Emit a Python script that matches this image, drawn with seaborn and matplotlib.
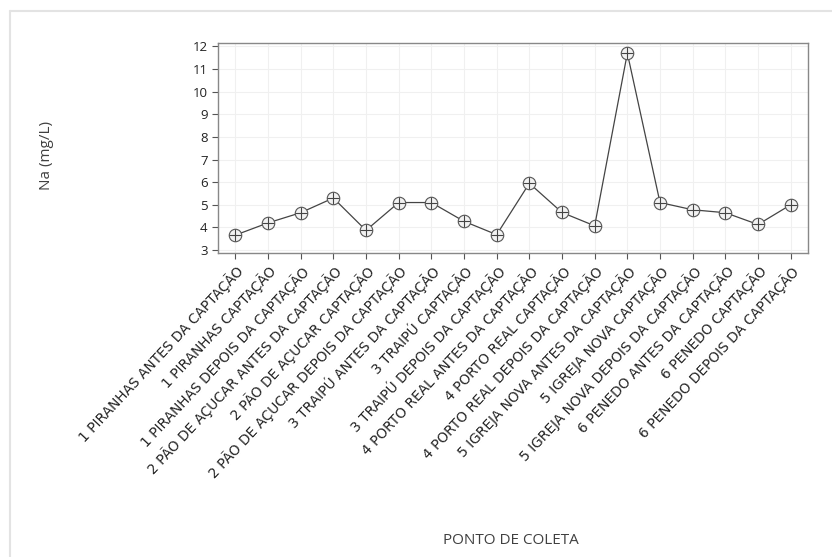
import matplotlib
matplotlib.use("Agg")
import matplotlib.pyplot as plt
import seaborn as sns
import pandas as pd

# pontos de coleta e concentracao de sodio
pontos = [
    "1 PIRANHAS ANTES DA CAPTAÇÃO",
    "1 PIRANHAS CAPTAÇÃO",
    "1 PIRANHAS DEPOIS DA CAPTAÇÃO",
    "2 PÃO DE AÇUCAR ANTES DA CAPTAÇÃO",
    "2 PÃO DE AÇUCAR CAPTAÇÃO",
    "2 PÃO DE AÇUCAR DEPOIS DA CAPTAÇÃO",
    "3 TRAIPÚ ANTES DA CAPTAÇÃO",
    "3 TRAIPÚ CAPTAÇÃO",
    "3 TRAIPÚ DEPOIS DA CAPTAÇÃO",
    "4 PORTO REAL ANTES DA CAPTAÇÃO",
    "4 PORTO REAL CAPTAÇÃO",
    "4 PORTO REAL DEPOIS DA CAPTAÇÃO",
    "5 IGREJA NOVA ANTES DA CAPTAÇÃO",
    "5 IGREJA NOVA CAPTAÇÃO",
    "5 IGREJA NOVA DEPOIS DA CAPTAÇÃO",
    "6 PENEDO ANTES DA CAPTAÇÃO",
    "6 PENEDO CAPTAÇÃO",
    "6 PENEDO DEPOIS DA CAPTAÇÃO",
]
na = [3.66, 4.2, 4.65, 5.3, 3.87, 5.1, 5.1, 4.27, 3.68, 5.95, 4.66,
      4.07, 11.7, 5.1, 4.78, 4.65, 4.13, 5.0]

df = pd.DataFrame({"ponto": pontos, "na": na})

sns.set_style("white")
plt.rcParams["font.family"] = ["Open Sans", "DejaVu Sans"]

fig = plt.figure(figsize=(8.32, 5.57), dpi=100)
# moldura clara da figura
fig.add_artist(plt.Line2D([10 / 832, 10 / 832], [0, 1 - 11 / 557],
                          transform=fig.transFigure, color="#e3e3e3", lw=1.5))
fig.add_artist(plt.Line2D([10 / 832, 1], [1 - 11 / 557, 1 - 11 / 557],
                          transform=fig.transFigure, color="#e3e3e3", lw=1.5))

ax = fig.add_axes([218 / 832, 1 - 253 / 557, 590 / 832, 210 / 557])
sns.lineplot(data=df, x="ponto", y="na", ax=ax, sort=False, color="#444444",
             lw=0.9, marker="o", markersize=9, markerfacecolor="#f2f2f2",
             markeredgecolor="#555555", markeredgewidth=0.8)
ax.plot(range(len(na)), na, ls="none", marker="+", markersize=9,
        color="#444444", mew=0.8)

ax.set_xlim(-0.53, len(pontos) - 0.47)
ax.set_ylim(2.87, 12.15)
ax.set_yticks(range(3, 13))
ax.grid(True, color="#f0f0f0", lw=0.8)
for s in ax.spines.values():
    s.set_color("#888888")
    s.set_linewidth(1.0)
ax.tick_params(axis="both", length=4, width=0.8, color="#555555",
               labelsize=9.5, labelcolor="#222222", bottom=True, left=True)
ax.set_xticks(range(len(pontos)))
ax.set_xticklabels(pontos, rotation=47, ha="right", rotation_mode="anchor",
                   fontsize=9.9, family=["DejaVu Sans"])
ax.set_xlabel("")
ax.set_ylabel("")
fig.text(47 / 832, 1 - 155 / 557, "Na (mg/L)", rotation=90, ha="center",
         va="center", fontsize=11, color="#404040")
fig.text(511 / 832, 1 - 540 / 557, "PONTO DE COLETA", ha="center",
         va="center", fontsize=11, color="#404040")

fig.savefig("out.png", dpi=100)
